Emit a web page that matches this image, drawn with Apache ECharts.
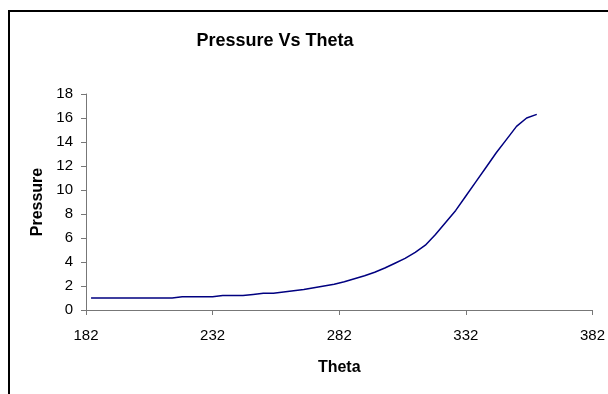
<!DOCTYPE html>
<html>
<head>
<meta charset="utf-8">
<script src="https://cdn.jsdelivr.net/npm/echarts@6/dist/echarts.min.js"></script>
<style>
html,body{margin:0;padding:0;background:#fff;}
#c{width:608px;height:394px;}
</style>
</head>
<body>
<div id="c"></div>
<script>
var theta = [184,188,192,196,200,204,208,212,216,220,224,228,232,236,240,244,248,252,256,260,264,268,272,276,280,284,288,292,296,300,304,308,312,316,320,324,328,332,336,340,344,348,352,356,360];
var pressure = [1.0,1.0,1.0,1.0,1.0,1.0,1.0,1.0,1.0,1.1,1.1,1.1,1.1,1.2,1.2,1.2,1.3,1.4,1.4,1.5,1.6,1.7,1.85,2.0,2.15,2.35,2.6,2.85,3.15,3.5,3.9,4.3,4.8,5.4,6.3,7.3,8.3,9.5,10.7,11.9,13.1,14.2,15.3,16.0,16.3];
var xTicks = [182,232,282,332,382];
var yTicks = [0,2,4,6,8,10,12,14,16,18];

var chart = echarts.init(document.getElementById('c'), null, {renderer:'canvas'});
var font = 'Liberation Sans, Arial, sans-serif';
chart.setOption({
  backgroundColor:'#fff',
  animation:false,
  title:{
    text:'Pressure Vs Theta',
    left:270, top:27, textAlign:'center',
    textStyle:{fontFamily:font, fontSize:18, fontWeight:'bold', color:'#000'}
  },
  graphic:[{
    type:'rect', shape:{x:9, y:11, width:900, height:700},
    style:{fill:'none', stroke:'#000', lineWidth:2}, silent:true
  }],
  grid:{left:86, right:15, top:94, bottom:84, containLabel:false},
  xAxis:{
    type:'value', min:xTicks[0], max:xTicks[xTicks.length-1],
    name:'Theta', nameLocation:'middle', nameGap:50,
    nameTextStyle:{fontFamily:font, fontSize:16, fontWeight:'bold', color:'#000'},
    axisLine:{lineStyle:{color:'#777', width:1}},
    axisTick:{show:true, length:5, inside:false, customValues:xTicks, lineStyle:{color:'#777'}},
    axisLabel:{customValues:xTicks, margin:18, fontFamily:font, fontSize:15, color:'#000'},
    splitLine:{show:false}
  },
  yAxis:{
    type:'value', min:yTicks[0], max:yTicks[yTicks.length-1], interval:2,
    name:'Pressure', nameLocation:'middle', nameGap:40,
    nameTextStyle:{fontFamily:font, fontSize:16, fontWeight:'bold', color:'#000'},
    axisLine:{show:true, lineStyle:{color:'#777', width:1}},
    axisTick:{show:true, length:5, inside:false, lineStyle:{color:'#777'}},
    axisLabel:{margin:13, fontFamily:font, fontSize:15, color:'#000'},
    splitLine:{show:false}
  },
  series:[{
    type:'line',
    data:theta.map(function(t,i){return [t, pressure[i]];}),
    showSymbol:false, symbol:'none',
    lineStyle:{color:'#000080', width:1.5},
    smooth:false
  }]
});
</script>
</body>
</html>
